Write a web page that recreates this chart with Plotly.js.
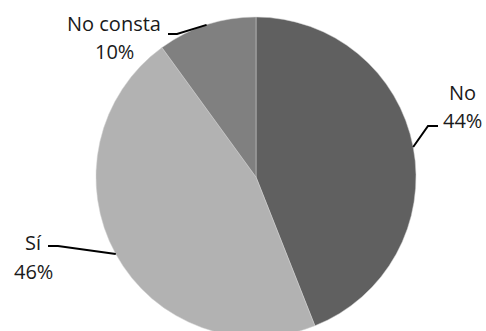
<!DOCTYPE html>
<html>
<head>
<meta charset="utf-8">
<script src="https://cdn.plot.ly/plotly-3.0.1.min.js"></script>
<style>
html,body{margin:0;padding:0;overflow:hidden;background:#fff;width:486px;height:331px;}
#chart{width:486px;height:354px;}
</style>
</head>
<body>
<div id="chart"></div>
<script>
const categories = ["No", "Sí", "No consta"];
const values = [44, 46, 10];
const sliceColors = ["#606060", "#b2b2b2", "#808080"];
const percentLabels = ["44%", "46%", "10%"];

const W = 486, H = 354;
const cx = 256, cy = 177, R = 160;

// label text centres (name line, percent line) and leader-line elbows, in px
const labelPos = [
  {x: 462, y1: 92, y2: 120, elbow: [428, 126], end: [438, 126]},
  {x: 33, y1: 243, y2: 271, elbow: [58, 246], end: [48, 246]},
  {x: 114, y1: 23, y2: 52, elbow: [177, 34], end: [168, 34]}
];

const px = x => x / W;
const py = y => 1 - y / H;

const total = values.reduce((a, b) => a + b, 0);
let cum = 0;
const shapes = [];
const annotations = [];
const font = {family: "Open Sans, sans-serif", size: 20, color: "#1a1a1a"};
values.forEach((v, i) => {
  const midFrac = (cum + v / 2) / total;
  cum += v;
  const ang = midFrac * 2 * Math.PI; // clockwise from 12 o'clock
  const ex = cx + R * Math.sin(ang);
  const ey = cy - R * Math.cos(ang);
  const lp = labelPos[i];
  shapes.push({
    type: "path", xref: "paper", yref: "paper",
    path: `M ${px(ex)} ${py(ey)} L ${px(lp.elbow[0])} ${py(lp.elbow[1])} L ${px(lp.end[0])} ${py(lp.end[1])}`,
    line: {color: "#000", width: 2}
  });
  annotations.push({
    xref: "paper", yref: "paper", x: px(lp.x), y: py(lp.y1),
    xanchor: "center", yanchor: "middle", showarrow: false,
    text: categories[i], font: font
  });
  annotations.push({
    xref: "paper", yref: "paper", x: px(lp.x), y: py(lp.y2),
    xanchor: "center", yanchor: "middle", showarrow: false,
    text: percentLabels[i], font: font
  });
});

const data = [{
  type: "pie",
  labels: categories,
  values: values,
  sort: false,
  direction: "clockwise",
  rotation: 0,
  textinfo: "none",
  hoverinfo: "none",
  marker: {colors: sliceColors, line: {color: "#d0d0d0", width: 0.5}},
  domain: {x: [96 / W, 416 / W], y: [0, 1]}
}];

const layout = {
  width: W, height: H,
  margin: {l: 0, r: 0, t: 0, b: 0},
  paper_bgcolor: "#ffffff",
  showlegend: false,
  shapes: shapes,
  annotations: annotations
};

Plotly.newPlot("chart", data, layout, {staticPlot: true, displayModeBar: false});
</script>
</body>
</html>
